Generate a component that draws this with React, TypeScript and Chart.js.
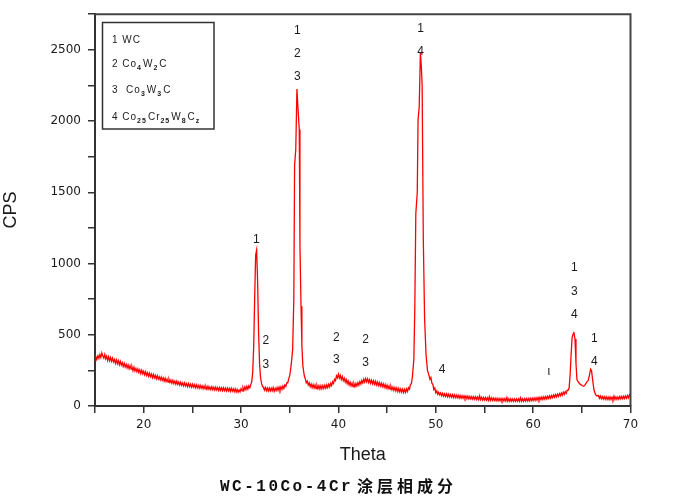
import React, { useEffect, useRef } from "react";
import { Chart, registerables } from "chart.js";

Chart.register(...registerables);

// ---- Data: [theta, CPS] ----
const background15to31: [number, number][] = [
  [15.0, 318], [15.1, 345], [15.2, 330], [15.3, 352], [15.4, 334], [15.5, 361], [15.6, 340], [15.7, 372],
  [15.8, 350], [15.9, 336], [16.0, 362], [16.1, 331], [16.2, 349], [16.3, 320], [16.4, 345], [16.5, 318],
  [16.6, 340], [16.7, 314], [16.8, 336], [16.9, 309], [17.0, 326], [17.1, 300], [17.2, 323], [17.3, 297],
  [17.4, 318], [17.5, 290], [17.6, 313], [17.7, 287], [17.8, 305], [17.9, 278], [18.0, 300], [18.1, 274],
  [18.2, 292], [18.3, 268], [18.4, 288], [18.5, 262], [18.6, 283], [18.7, 259], [18.8, 274], [18.9, 249],
  [19.0, 272], [19.1, 246], [19.2, 263], [19.3, 241], [19.4, 260], [19.5, 236], [19.6, 254], [19.7, 228],
  [19.8, 250], [19.9, 226], [20.0, 244], [20.1, 219], [20.2, 240], [20.3, 215], [20.4, 233], [20.5, 209],
  [20.6, 230], [20.7, 206], [20.8, 224], [20.9, 199], [21.0, 221], [21.1, 198], [21.2, 214], [21.3, 191],
  [21.4, 212], [21.5, 189], [21.6, 205], [21.7, 183], [21.8, 203], [21.9, 180], [22.0, 197], [22.1, 175],
  [22.2, 195], [22.3, 172], [22.4, 189], [22.5, 167], [22.6, 187], [22.7, 165], [22.8, 181], [22.9, 160],
  [23.0, 180], [23.1, 158], [23.2, 175], [23.3, 153], [23.4, 174], [23.5, 152], [23.6, 168], [23.7, 147],
  [23.8, 167], [23.9, 146], [24.0, 162], [24.1, 141], [24.2, 162], [24.3, 141], [24.4, 157], [24.5, 136],
  [24.6, 157], [24.7, 136], [24.8, 153], [24.9, 132], [25.0, 153], [25.1, 132], [25.2, 149], [25.3, 128],
  [25.4, 149], [25.5, 128], [25.6, 145], [25.7, 125], [25.8, 145], [25.9, 125], [26.0, 141], [26.1, 121],
  [26.2, 141], [26.3, 121], [26.4, 137], [26.5, 118], [26.6, 138], [26.7, 118], [26.8, 134], [26.9, 115],
  [27.0, 135], [27.1, 115], [27.2, 131], [27.3, 112], [27.4, 132], [27.5, 113], [27.6, 129], [27.7, 109],
  [27.8, 130], [27.9, 110], [28.0, 127], [28.1, 107], [28.2, 128], [28.3, 108], [28.4, 125], [28.5, 105],
  [28.6, 126], [28.7, 106], [28.8, 123], [28.9, 103], [29.0, 124], [29.1, 104], [29.2, 121], [29.3, 101],
  [29.4, 121], [29.5, 99], [29.6, 117], [29.7, 97], [29.8, 112], [29.9, 99], [30.0, 122], [30.1, 106],
  [30.2, 129], [30.3, 111], [30.4, 134], [30.5, 115], [30.6, 138], [30.7, 119], [30.8, 142], [30.9, 128],
  [31.0, 150],
];

const peakWC31: [number, number][] = [
  [31.1, 170], [31.2, 240], [31.3, 420], [31.4, 760], [31.5, 1060], [31.6, 1095], [31.7, 880],
  [31.8, 520], [31.9, 300], [32.0, 200], [32.1, 160], [32.2, 138],
];

const background32to35: [number, number][] = [
  [32.3, 132], [32.4, 112], [32.5, 130], [32.6, 108], [32.7, 127], [32.8, 106], [32.9, 126], [33.0, 105],
  [33.1, 125], [33.2, 107], [33.3, 129], [33.4, 104], [33.5, 124], [33.6, 108], [33.7, 130], [33.8, 110],
  [33.9, 132], [34.0, 112], [34.1, 135], [34.2, 116], [34.3, 140], [34.4, 123], [34.5, 148], [34.6, 138],
  [34.7, 164], [34.8, 163], [34.9, 192], [35.0, 213], [35.1, 262], [35.2, 320],
];

const peak35: [number, number][] = [
  [35.3, 400], [35.42, 750], [35.5, 1690], [35.62, 1800], [35.74, 2225], [35.84, 2100], [35.98, 1940],
  [36.05, 1130], [36.16, 700], [36.25, 420], [36.35, 280], [36.5, 210],
];

const background36to47: [number, number][] = [
  [36.6, 192], [36.7, 163], [36.8, 174], [36.9, 148], [37.0, 162], [37.1, 136], [37.2, 154], [37.3, 130],
  [37.4, 150], [37.5, 126], [37.6, 147], [37.7, 123], [37.8, 144], [37.9, 122], [38.0, 143], [38.1, 120],
  [38.2, 142], [38.3, 121], [38.4, 143], [38.5, 123], [38.6, 145], [38.7, 125], [38.8, 148], [38.9, 129],
  [39.0, 152], [39.1, 134], [39.2, 158], [39.3, 143], [39.4, 170], [39.5, 158], [39.6, 187], [39.7, 178],
  [39.8, 212], [39.9, 198], [40.0, 224], [40.1, 196], [40.2, 214], [40.3, 186], [40.4, 206], [40.5, 178],
  [40.6, 196], [40.7, 168], [40.8, 186], [40.9, 158], [41.0, 176], [41.1, 148], [41.2, 167], [41.3, 141],
  [41.4, 160], [41.5, 137], [41.6, 157], [41.7, 136], [41.8, 158], [41.9, 140], [42.0, 163], [42.1, 146],
  [42.2, 170], [42.3, 154], [42.4, 179], [42.5, 162], [42.6, 188], [42.7, 168], [42.8, 192], [42.9, 170],
  [43.0, 190], [43.1, 165], [43.2, 185], [43.3, 160], [43.4, 181], [43.5, 156], [43.6, 177], [43.7, 152],
  [43.8, 173], [43.9, 148], [44.0, 169], [44.1, 144], [44.2, 164], [44.3, 140], [44.4, 160], [44.5, 136],
  [44.6, 156], [44.7, 131], [44.8, 151], [44.9, 126], [45.0, 146], [45.1, 122], [45.2, 141], [45.3, 118],
  [45.4, 137], [45.5, 114], [45.6, 133], [45.7, 110], [45.8, 129], [45.9, 106], [46.0, 126], [46.1, 102],
  [46.2, 123], [46.3, 99], [46.4, 120], [46.5, 97], [46.6, 118], [46.7, 95], [46.8, 117], [46.9, 96],
  [47.0, 120], [47.1, 102], [47.2, 128], [47.3, 118], [47.4, 150], [47.5, 158], [47.6, 205],
];

const peak48: [number, number][] = [
  [47.75, 330], [47.85, 700], [47.95, 1350], [48.1, 1500], [48.18, 2010], [48.3, 2100], [48.42, 2480],
  [48.52, 2380], [48.6, 2250], [48.72, 1170], [48.85, 620], [49.0, 360], [49.15, 250], [49.3, 215],
  [49.4, 188], [49.5, 200], [49.6, 160], [49.7, 152], [49.8, 116], [49.9, 127], [50.0, 94], [50.1, 106],
  [50.2, 82], [50.3, 96], [50.4, 78],
];

const background50to63: [number, number][] = [
  [50.5, 92], [50.6, 72], [50.7, 89], [50.8, 69], [50.9, 86], [51.0, 67], [51.1, 85], [51.2, 65],
  [51.3, 83], [51.4, 64], [51.5, 81], [51.6, 62], [51.7, 80], [51.8, 60], [51.9, 79], [52.0, 59],
  [52.1, 77], [52.2, 58], [52.3, 75], [52.4, 56], [52.5, 74], [52.6, 55], [52.7, 72], [52.8, 54],
  [52.9, 71], [53.0, 53], [53.1, 70], [53.2, 51], [53.3, 69], [53.4, 50], [53.5, 67], [53.6, 49],
  [53.7, 66], [53.8, 48], [53.9, 65], [54.0, 47], [54.1, 64], [54.2, 46], [54.3, 63], [54.4, 45],
  [54.5, 71], [54.6, 44], [54.7, 61], [54.8, 43], [54.9, 60], [55.0, 42], [55.1, 59], [55.2, 41],
  [55.3, 58], [55.4, 40], [55.5, 65], [55.6, 39], [55.7, 57], [55.8, 39], [55.9, 56], [56.0, 38],
  [56.1, 55], [56.2, 37], [56.3, 54], [56.4, 37], [56.5, 53], [56.6, 36], [56.7, 53], [56.8, 36],
  [56.9, 52], [57.0, 35], [57.1, 52], [57.2, 35], [57.3, 59], [57.4, 34], [57.5, 51], [57.6, 34],
  [57.7, 51], [57.8, 33], [57.9, 50], [58.0, 33], [58.1, 50], [58.2, 33], [58.3, 50], [58.4, 34],
  [58.5, 51], [58.6, 33], [58.7, 57], [58.8, 34], [58.9, 51], [59.0, 34], [59.1, 51], [59.2, 35],
  [59.3, 52], [59.4, 35], [59.5, 53], [59.6, 36], [59.7, 54], [59.8, 37], [59.9, 55], [60.0, 38],
  [60.1, 56], [60.2, 39], [60.3, 58], [60.4, 41], [60.5, 59], [60.6, 42], [60.7, 61], [60.8, 44],
  [60.9, 63], [61.0, 46], [61.1, 65], [61.2, 48], [61.3, 67], [61.4, 50], [61.5, 69], [61.6, 53],
  [61.7, 72], [61.8, 55], [61.9, 74], [62.0, 58], [62.1, 77], [62.2, 61], [62.3, 80], [62.4, 64],
  [62.5, 83], [62.6, 68], [62.7, 87], [62.8, 72], [62.9, 91], [63.0, 76], [63.1, 96], [63.2, 82],
  [63.3, 101], [63.4, 90], [63.5, 111], [63.6, 110],
];

const peak64and66: [number, number][] = [
  [63.7, 128], [63.8, 220], [63.9, 360], [64.0, 480], [64.1, 505], [64.18, 520], [64.3, 470],
  [64.4, 300], [64.5, 185], [64.6, 172], [64.75, 158], [64.9, 150], [65.05, 142], [65.2, 138],
  [65.35, 150], [65.5, 168], [65.65, 178], [65.78, 215], [65.9, 258], [66.0, 248], [66.1, 190],
  [66.25, 112], [66.4, 82], [66.55, 70],
];

const background66to70: [number, number][] = [
  [66.7, 74], [66.8, 55], [66.9, 70], [67.0, 51], [67.1, 67], [67.2, 49], [67.3, 65], [67.4, 47],
  [67.5, 64], [67.6, 46], [67.7, 63], [67.8, 45], [67.9, 63], [68.0, 45], [68.1, 62], [68.2, 45],
  [68.3, 69], [68.4, 46], [68.5, 63], [68.6, 47], [68.7, 64], [68.8, 48], [68.9, 66], [69.0, 50],
  [69.1, 67], [69.2, 51], [69.3, 69], [69.4, 53], [69.5, 71], [69.6, 55], [69.7, 73], [69.8, 57],
  [69.9, 79], [70.0, 64],
];

// ---- Axis tick labels ----
const xTickLabels = ["20", "30", "40", "50", "60", "70"];
const yTickLabels = ["0", "500", "1000", "1500", "2000", "2500"];

// ---- Phase annotations near the peaks ----
const peakLabels: { theta: number; cps: number; text: string }[] = [
  { theta: 31.56, cps: 1168, text: "1" },
  { theta: 32.54, cps: 457, text: "2" },
  { theta: 32.54, cps: 289, text: "3" },
  { theta: 35.78, cps: 2632, text: "1" },
  { theta: 35.78, cps: 2470, text: "2" },
  { theta: 35.78, cps: 2308, text: "3" },
  { theta: 39.79, cps: 478, text: "2" },
  { theta: 39.79, cps: 324, text: "3" },
  { theta: 42.78, cps: 464, text: "2" },
  { theta: 42.78, cps: 303, text: "3" },
  { theta: 48.44, cps: 2646, text: "1" },
  { theta: 48.44, cps: 2484, text: "4" },
  { theta: 50.65, cps: 253, text: "4" },
  { theta: 61.6, cps: 239, text: "ι" },
  { theta: 64.23, cps: 971, text: "1" },
  { theta: 64.23, cps: 802, text: "3" },
  { theta: 64.23, cps: 640, text: "4" },
  { theta: 66.29, cps: 471, text: "1" },
  { theta: 66.29, cps: 310, text: "4" },
];

// ---- Legend box: [text, isSubscript] runs ----
const legendLines: [string, boolean][][] = [
  [["1 WC", false]],
  [["2 Co", false], ["4", true], ["W", false], ["2", true], ["C", false]],
  [["3  Co", false], ["3", true], ["W", false], ["3", true], ["C", false]],
  [["4 Co", false], ["25", true], ["Cr", false], ["25", true], ["W", false], ["8", true], ["C", false], ["z", true]],
];

const titleLatin = "WC-10Co-4Cr";
const titleCJK = "涂层相成分";

const allPoints = [
  ...background15to31, ...peakWC31, ...background32to35, ...peak35, ...background36to47,
  ...peak48, ...background50to63, ...peak64and66, ...background66to70,
].map(([x, y]) => ({ x, y }));

const decorPlugin = {
  id: "decor",
  afterDraw(chart: any) {
    const { ctx, chartArea, scales } = chart;
    const { left, right, top, bottom } = chartArea;
    ctx.save();
    // frame top & right
    ctx.strokeStyle = "#444";
    ctx.lineWidth = 2;
    ctx.beginPath();
    ctx.moveTo(left, top);
    ctx.lineTo(right, top);
    ctx.lineTo(right, bottom);
    ctx.stroke();

    // peak labels
    ctx.fillStyle = "#1a1a1a";
    ctx.font = "12px 'Liberation Sans', Arial, sans-serif";
    ctx.textAlign = "center";
    ctx.textBaseline = "middle";
    for (const p of peakLabels) {
      const px = scales.x.getPixelForValue(p.theta);
      const py = scales.y.getPixelForValue(p.cps);
      ctx.fillText(p.text, px, py);
    }

    // legend box
    ctx.strokeStyle = "#333";
    ctx.lineWidth = 1.5;
    ctx.strokeRect(102.5, 22.5, 111.5, 106.5);
    ctx.textAlign = "left";
    ctx.textBaseline = "alphabetic";
    (ctx as any).letterSpacing = "1px";
    const baselines = [43, 67, 93, 120];
    legendLines.forEach((runs, i) => {
      let x = 112;
      for (const [t, sub] of runs) {
        ctx.font = sub ? "bold 7px 'Liberation Sans', Arial, sans-serif" : "10px 'Liberation Sans', Arial, sans-serif";
        const y = baselines[i] + (sub ? 3 : 0);
        ctx.fillText(t, x, y);
        x += ctx.measureText(t).width + (sub ? 1 : 0);
      }
    });
    (ctx as any).letterSpacing = "0px";

    // bottom caption
    ctx.fillStyle = "#111";
    ctx.textBaseline = "middle";
    ctx.textAlign = "left";
    ctx.font = "bold 16px 'Liberation Mono', 'DejaVu Sans Mono', monospace";
    let cx = 220;
    for (const ch of titleLatin) {
      ctx.fillText(ch, cx, 487);
      cx += 12.1;
    }
    ctx.font = "bold 16px 'Noto Sans CJK SC', sans-serif";
    cx = 357;
    for (const ch of titleCJK) {
      ctx.fillText(ch, cx, 486);
      cx += 20;
    }
    ctx.restore();
  },
};

export default function App() {
  const canvasRef = useRef<HTMLCanvasElement | null>(null);

  useEffect(() => {
    document.body.style.margin = "0";
    const canvas = canvasRef.current;
    if (!canvas) return;
    const chart = new Chart(canvas, {
      type: "line",
      data: {
        datasets: [
          {
            data: allPoints,
            borderColor: "#ff0000",
            borderWidth: 1.3,
            pointRadius: 0,
            tension: 0,
            fill: false,
          },
        ],
      },
      options: {
        animation: false,
        responsive: false,
        devicePixelRatio: 1,
        parsing: false as any,
        layout: { padding: { top: 14, right: 42.5, left: 0, bottom: 0 } },
        plugins: { legend: { display: false }, tooltip: { enabled: false }, title: { display: false } },
        scales: {
          x: {
            type: "linear",
            min: 15,
            max: 70,
            afterFit: (s: any) => { s.height = 90; },
            ticks: {
              stepSize: 5,
              color: "#1a1a1a",
              padding: 5,
              maxRotation: 0,
              autoSkip: false,
              font: { family: "'DejaVu Sans', sans-serif", size: 12 },
              callback: (v: any) => (xTickLabels.includes(String(v)) ? String(v) : ""),
            },
            grid: { drawOnChartArea: false, drawTicks: true, tickLength: 7, color: "#333", lineWidth: 1.5 },
            border: { display: true, color: "#333", width: 2 },
            title: {
              display: true,
              text: "Theta",
              color: "#1a1a1a",
              font: { family: "'Liberation Sans', Arial, sans-serif", size: 18 },
              padding: { top: 0, bottom: 30 },
            },
          },
          y: {
            type: "linear",
            min: 0,
            max: 2750,
            afterFit: (s: any) => { s.width = 95; },
            ticks: {
              stepSize: 250,
              color: "#1a1a1a",
              padding: 7,
              autoSkip: false,
              font: { family: "'DejaVu Sans', sans-serif", size: 12 },
              callback: (v: any) => (yTickLabels.includes(String(v)) ? String(v) : ""),
            },
            grid: { drawOnChartArea: false, drawTicks: true, tickLength: 7, color: "#333", lineWidth: 1.5 },
            border: { display: true, color: "#333", width: 2 },
            title: {
              display: true,
              text: "CPS",
              color: "#1a1a1a",
              font: { family: "'Liberation Sans', Arial, sans-serif", size: 18 },
              padding: { top: 0, bottom: 0 },
            },
          },
        },
      },
      plugins: [decorPlugin],
    });
    return () => chart.destroy();
  }, []);

  return (
    <div style={{ position: "absolute", left: 0, top: 0, width: 673, height: 496, background: "#fff" }}>
      <canvas ref={canvasRef} width={673} height={496} style={{ display: "block" }} />
    </div>
  );
}
